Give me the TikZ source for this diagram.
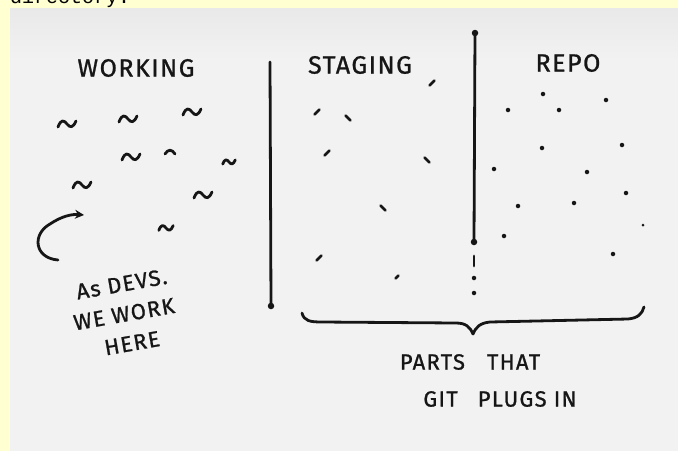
\documentclass[tikz,border=0pt]{standalone}
\usepackage{fontspec}
\usepackage{tikz}
\usetikzlibrary{positioning,arrows.meta,calc}
\newfontfamily\handfont{Fira Sans}[LetterSpace=6, FakeBold=1]
\newfontfamily\pagefont{Liberation Mono}
\definecolor{gsInk}{HTML}{161616}
\definecolor{gsPaper}{HTML}{F2F2F2}
\definecolor{gsPaperD}{HTML}{E9E9E9}
\definecolor{gsPage}{HTML}{FFFFD2}
\tikzset{
  gs-ink/.style={draw=gsInk, line width=2.8pt, line cap=round, line join=round},
  gs-title/.style={font=\handfont\fontsize{25}{25}\selectfont, text=gsInk,
    inner sep=0pt},
  gs-note/.style={font=\handfont\fontsize{22}{30}\selectfont, text=gsInk,
    inner sep=0pt, rotate=10, align=left},
  gs-foot/.style={font=\handfont\fontsize{22}{22}\selectfont, text=gsInk,
    inner sep=0pt},
  gs-dot/.style={circle, fill=gsInk, inner sep=0pt, minimum size=4.5pt},
  gs-end/.style={circle, fill=gsInk, inner sep=0pt, minimum size=6.5pt},
  tilde/.pic={\draw[gs-ink] (-9,3) .. controls (-6,-5) and (-3,-4) .. (0,0)
    .. controls (3,4) and (6,4) .. (9,-3);},
  hat/.pic={\draw[gs-ink] (-5,2) .. controls (-2,-3) and (2,-3) .. (5,2);},
  fwd/.pic={\draw[gs-ink] (-2.5,2.5) -- (2.5,-2.5);},
  bwd/.pic={\draw[gs-ink] (-2.5,-2.5) -- (2.5,2.5);}
}
\begin{document}
\begin{tikzpicture}[x=1pt, y=-1pt]
\useasboundingbox (0,0) rectangle (678,451);
% page and paper
\fill[gsPage] (0,0) rectangle (678,451);
\begin{scope}
  \clip (0,0) rectangle (678,8);
  \node[font=\pagefont\fontsize{20}{20}\selectfont, anchor=base west,
    inner sep=0pt] (pageText) at (10,3) {directory.};
\end{scope}
\shade[top color=gsPaperD, bottom color=gsPaper] (10,8) rectangle (678,60);
\fill[gsPaper] (10,60) rectangle (678,451);

% Working
\node[gs-title] (working) at (136,68) {WORKING};
\pic at (67,124) {tilde};
\pic at (128,119) {tilde};
\pic at (192,112) {tilde};
\pic at (131,157) {tilde};
\pic at (170,152) {hat};
\pic[scale=0.7] at (229,162) {tilde};
\pic at (82,185) {tilde};
\pic at (203,195) {tilde};
\pic[scale=0.8] at (166,228) {tilde};

% note and arrow
\coordinate (arrowTail) at (58,260);
\coordinate (arrowMid) at (50,224);
\coordinate (arrowHead) at (84,215);
\draw[gs-ink, -{Stealth[length=9pt, width=9pt]}] (arrowTail)
  .. controls (34,258) and (32,234) .. (arrowMid)
  .. controls (62,216) and (72,214) .. (arrowHead);
\node[gs-note] (devsNote) at (124,314)
  {\hspace{8pt}As DEVS.\\WE WORK\\\hspace{26pt}HERE};

% Staging
\coordinate (lineAtop) at (270,62);
\node[gs-end] (lineAbot) at (271,306) {};
\draw[gs-ink] (lineAtop) -- (lineAbot.center);
\node[gs-title] (staging) at (360,65) {STAGING};
\pic at (432,83) {fwd};
\pic at (317,112) {fwd};
\pic at (348,118) {bwd};
\pic at (327,153) {fwd};
\pic at (427,160) {bwd};
\pic at (383,208) {bwd};
\pic at (319,258) {fwd};
\pic[scale=0.6] at (397,277) {fwd};

% Repo
\node[gs-end] (lineBtop) at (475,33) {};
\node[gs-end] (lineBbot) at (474,242) {};
\draw[gs-ink] (lineBtop.center) -- (lineBbot.center);
\coordinate (bangA) at (474,256);
\coordinate (bangB) at (474,266);
\draw[gs-ink] (bangA) -- (bangB);
\node[gs-dot] (bangC) at (474,278) {};
\node[gs-dot] (bangD) at (474,293) {};
\node[gs-title] (repo) at (568,63) {REPO};
\node[gs-dot] (r1) at (543,94) {};  \node[gs-dot] (r2) at (508,110) {};
\node[gs-dot] (r3) at (559,110) {}; \node[gs-dot] (r4) at (606,100) {};
\node[gs-dot] (r5) at (542,148) {}; \node[gs-dot] (r6) at (622,145) {};
\node[gs-dot] (r7) at (494,169) {}; \node[gs-dot] (r8) at (587,172) {};
\node[gs-dot] (r9) at (626,193) {}; \node[gs-dot] (r10) at (518,206) {};
\node[gs-dot] (r11) at (574,203) {}; \node[gs-dot, minimum size=3pt] (r12) at (643,225) {};
\node[gs-dot] (r13) at (504,236) {}; \node[gs-dot] (r14) at (613,254) {};

% brace under staging and repo
\coordinate (braceL) at (302,313);
\coordinate (braceTip) at (473,334);
\coordinate (braceR) at (644,307);
\draw[gs-ink] (braceL) .. controls (304,321) and (310,322) .. (322,322)
  -- (456,323) .. controls (466,323) and (470,327) .. (braceTip)
  .. controls (476,327) and (480,323) .. (490,322)
  -- (628,319) .. controls (638,318) and (642,314) .. (braceR);
\node[gs-foot] (parts) at (470,362) {PARTS\hspace{22pt}THAT};
\node[gs-foot] (plugs) at (500,399) {GIT\hspace{20pt}PLUGS IN};
\end{tikzpicture}
\end{document}
